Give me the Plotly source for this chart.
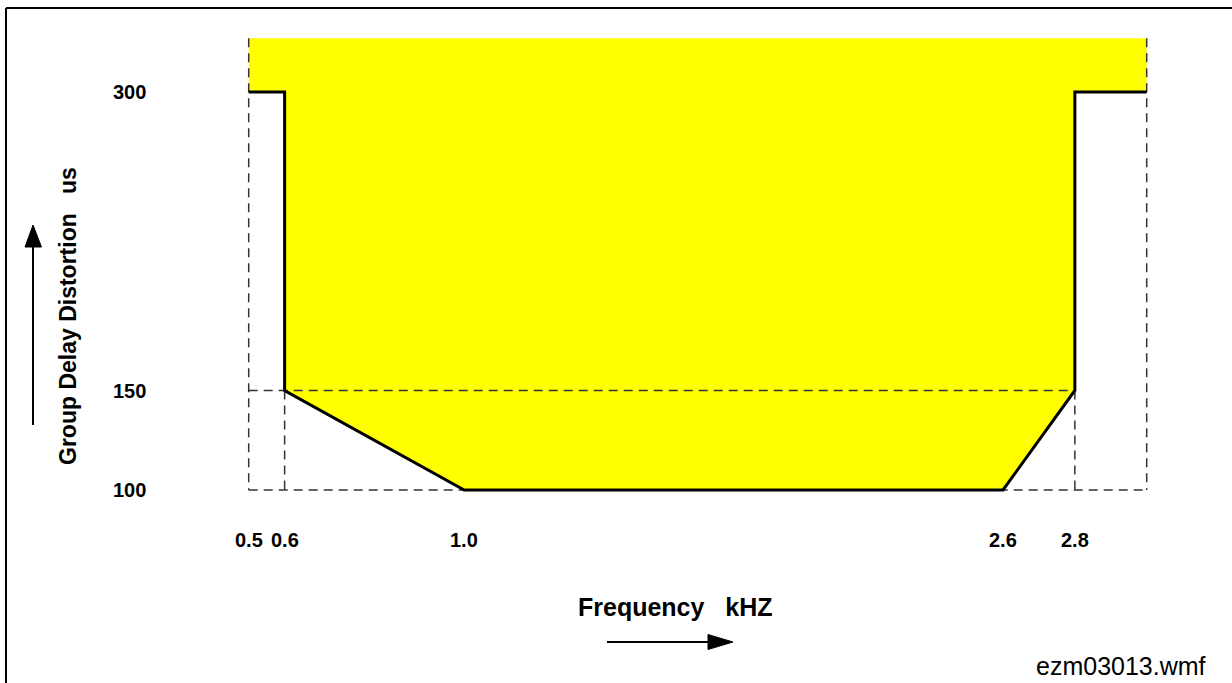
import plotly.graph_objects as go

# ---------------- data ----------------
# frequency breakpoints (kHz) and their tick labels
freq_ticks = [0.5, 0.6, 1.0, 2.6, 2.8]
freq_tick_text = ["0.5", "0.6", "1.0", "2.6", "2.8"]
# the drawing is schematic: each frequency sits on a grid slot, not a linear kHz scale
freq_slot = {0.5: 0, 0.6: 1, 1.0: 6, 2.6: 21, 2.8: 23, "end": 25}

# group delay distortion (us)
delay_ticks = [100, 150, 300]
delay_tick_text = ["100", "150", "300"]
delay_fill_top = 327   # yellow "allowed" area continues above 300

# limit (mask) line
mask_freq = [0.5, 0.6, 0.6, 1.0, 2.6, 2.8, 2.8, "end"]
mask_delay = [300, 300, 150, 100, 100, 150, 300, 300]

# ---------------- geometry helpers ----------------
W, H = 1232, 683
X0_PX, SLOT_PX = 248.7, 35.92          # slot 0 pixel and pixel per slot
Y300_PX, PX_PER_US = 92.0, 1.99
x_range = [-X0_PX / SLOT_PX, (W - X0_PX) / SLOT_PX]
y_range = [300 - (H - Y300_PX) / PX_PER_US, 300 + Y300_PX / PX_PER_US]


def px(x):
    return x / W


def py(y):
    return 1 - y / H


mx = [freq_slot[f] for f in mask_freq]
my = mask_delay
x_left, x_right = freq_slot[0.5], freq_slot["end"]

# yellow area: above the mask up to the fill top
fill_x = [x_left] + mx + [x_right, x_left]
fill_y = [delay_fill_top] + my + [delay_fill_top, delay_fill_top]

fig = go.Figure()
fig.add_trace(go.Scatter(x=fill_x, y=fill_y, mode="lines", fill="toself",
                         fillcolor="#ffff00", line=dict(width=0),
                         hoverinfo="skip", showlegend=False))

dash_style = dict(color="#333333", width=1.5, dash="9px,6px")
# dashed construction lines
dashed = [
    ([x_left, x_left], [delay_fill_top, 100]),
    ([x_right, x_right], [delay_fill_top, 100]),
    ([x_left, x_right], [100, 100]),
    ([x_left, freq_slot[2.8]], [150, 150]),
    ([freq_slot[0.6], freq_slot[0.6]], [150, 100]),
    ([freq_slot[2.8], freq_slot[2.8]], [150, 100]),
]
for xs, ys in dashed:
    fig.add_trace(go.Scatter(x=xs, y=ys, mode="lines", line=dash_style,
                             hoverinfo="skip", showlegend=False))

fig.add_trace(go.Scatter(x=mx, y=my, mode="lines",
                         line=dict(color="black", width=3),
                         hoverinfo="skip", showlegend=False))

font = "Liberation Sans, Arial, sans-serif"
ann = []
for f, t in zip(freq_ticks, freq_tick_text):
    ann.append(dict(x=freq_slot[f], xref="x", y=py(540), yref="paper",
                    text=f"<b>{t}</b>", showarrow=False,
                    font=dict(family=font, size=20, color="black"),
                    xanchor="center", yanchor="middle"))
for v, t in zip(delay_ticks, delay_tick_text):
    ann.append(dict(x=px(129), xref="paper", y=v, yref="y",
                    text=f"<b>{t}</b>", showarrow=False,
                    font=dict(family=font, size=20, color="black"),
                    xanchor="center", yanchor="middle"))
ann.append(dict(x=px(68), xref="paper", y=py(316), yref="paper",
                text="<b>Group Delay Distortion   us</b>", textangle=-90,
                showarrow=False, font=dict(family=font, size=23, color="black"),
                xanchor="center", yanchor="middle"))
ann.append(dict(x=px(675), xref="paper", y=py(607), yref="paper",
                text="<b>Frequency   kHZ</b>", showarrow=False,
                font=dict(family=font, size=25, color="black"),
                xanchor="center", yanchor="middle"))
ann.append(dict(x=px(1121), xref="paper", y=py(666), yref="paper",
                text="ezm03013.wmf", showarrow=False,
                font=dict(family=font, size=25, color="black"),
                xanchor="center", yanchor="middle"))

shapes = [
    # frame (top and left)
    dict(type="line", xref="paper", yref="paper", x0=px(6), y0=py(8), x1=1, y1=py(8),
         line=dict(color="black", width=2)),
    dict(type="line", xref="paper", yref="paper", x0=px(6), y0=py(8), x1=px(6), y1=0,
         line=dict(color="black", width=2)),
    # vertical arrow
    dict(type="line", xref="paper", yref="paper", x0=px(33), y0=py(425), x1=px(33), y1=py(245),
         line=dict(color="black", width=2)),
    dict(type="path", xref="paper", yref="paper",
         path=f"M {px(25)} {py(247)} L {px(41.5)} {py(247)} L {px(33)} {py(225)} Z",
         fillcolor="black", line=dict(color="black", width=1)),
    # horizontal arrow
    dict(type="line", xref="paper", yref="paper", x0=px(607), y0=py(642), x1=px(710), y1=py(642),
         line=dict(color="black", width=2)),
    dict(type="path", xref="paper", yref="paper",
         path=f"M {px(708)} {py(634.5)} L {px(708)} {py(649.5)} L {px(733)} {py(642)} Z",
         fillcolor="black", line=dict(color="black", width=1)),
]

fig.update_layout(
    width=W, height=H,
    margin=dict(l=0, r=0, t=0, b=0, pad=0, autoexpand=False),
    paper_bgcolor="white", plot_bgcolor="white",
    xaxis=dict(range=x_range, visible=False, fixedrange=True),
    yaxis=dict(range=y_range, visible=False, fixedrange=True),
    annotations=ann, shapes=shapes, showlegend=False,
)
fig.write_html("out.html",
               config={"displayModeBar": False, "staticPlot": True},
               post_script="document.body.style.margin='0';"
                           "document.body.style.overflow='hidden';")
